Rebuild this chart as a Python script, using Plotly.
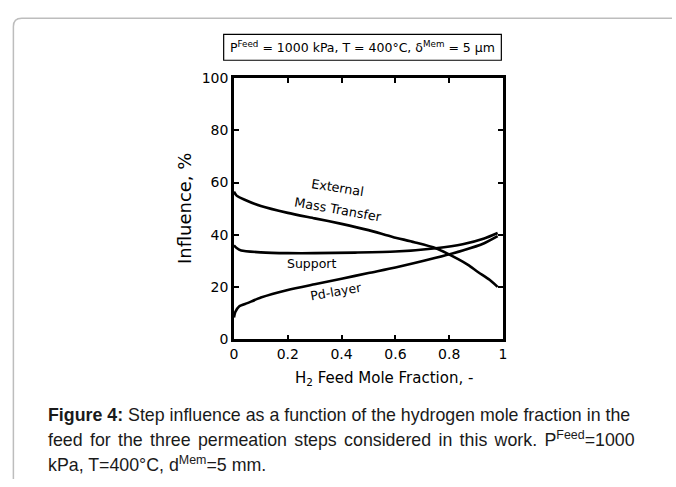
import plotly.graph_objects as go

# H2 feed mole fraction and step influence (%) for each permeation step
x_ext = [0.0, 0.01, 0.04, 0.10, 0.20, 0.30, 0.40, 0.50, 0.59, 0.67, 0.75, 0.835, 0.87, 0.908, 0.95, 0.98]
y_ext = [56.5, 55.0, 53.4, 51.0, 48.4, 46.3, 44.2, 41.8, 39.2, 37.2, 34.9, 30.6, 28.5, 25.7, 22.8, 20.1]

x_sup = [0.0, 0.01, 0.027, 0.10, 0.20, 0.30, 0.45, 0.60, 0.75, 0.85, 0.93, 0.98]
y_sup = [36.0, 35.0, 34.0, 33.3, 33.0, 33.0, 33.2, 33.6, 34.9, 36.4, 38.6, 40.7]

x_pd = [0.0, 0.005, 0.02, 0.05, 0.10, 0.20, 0.30, 0.40, 0.50, 0.60, 0.75, 0.85, 0.93, 0.98]
y_pd = [8.4, 10.5, 12.7, 13.9, 16.0, 18.9, 21.1, 23.2, 25.4, 27.5, 31.2, 34.0, 36.8, 39.5]

x_ticks = [0, 0.2, 0.4, 0.6, 0.8, 1]
x_tick_text = ["0", "0.2", "0.4", "0.6", "0.8", "1"]
y_ticks = [0, 20, 40, 60, 80, 100]

W, H = 676, 487
FONT = "DejaVu Sans"


def px(x):
    return x / W


def py(y):
    return 1 - y / H


def label(x, y, text, size, angle=0, xanchor="center", family=FONT, color="black"):
    return dict(x=px(x), y=py(y), text=text, showarrow=False, textangle=angle,
                xref="paper", yref="paper", xanchor=xanchor, yanchor="middle",
                font=dict(family=family, size=size, color=color))


fig = go.Figure()
for xs, ys in [(x_ext, y_ext), (x_sup, y_sup), (x_pd, y_pd)]:
    fig.add_trace(go.Scatter(x=xs, y=ys, mode="lines",
                             line=dict(color="black", width=2.6, shape="spline", smoothing=0.6),
                             showlegend=False, hoverinfo="skip"))

axis_common = dict(showline=True, linecolor="black", linewidth=2.5, mirror="ticks",
                   ticks="inside", ticklen=5, tickwidth=1.5, tickcolor="black",
                   showgrid=False, zeroline=False,
                   tickfont=dict(family=FONT, size=14, color="black"))

fig.update_xaxes(range=[0, 1], tickvals=x_ticks, ticktext=x_tick_text,
                 domain=[px(232.7), px(505)], anchor="y", **axis_common)
fig.update_yaxes(range=[0, 100], tickvals=y_ticks,
                 domain=[py(342.7), py(72.3)], anchor="x", **axis_common)

annotations = [
    # axis titles
    label(385, 383, "H<sub>2</sub> Feed Mole Fraction, -", 15),
    label(182, 207, "Influence, %", 18, angle=-90),
    # operating conditions
    label(362.5, 40.5, "P<sup>Feed</sup> = 1000 kPa, T = 400°C, δ<sup>Mem</sup> = 5 μm", 12.5),
    # curve labels
    label(337, 186, "External", 12.8, angle=9),
    label(338, 208, "Mass Transfer", 12.8, angle=10),
    label(312, 264, "Support", 12.5),
    label(336, 293, "Pd-layer", 12.5, angle=-10),
]

caption_lines = [
    ("<b>Figure 4:</b> Step influence as a function of the hydrogen mole fraction in the", 0),
    ("feed for the three permeation steps considered in this work. P<sup>Feed</sup>=1000", 2.4),
    ("kPa, T=400°C, d<sup>Mem</sup>=5 mm.", 0),
]
for i, (line, spacing) in enumerate(caption_lines):
    text = f"<span style='word-spacing:{spacing}px'>{line}</span>" if spacing else line
    annotations.append(label(42, 421 + 25 * i, text, 17.8, xanchor="left",
                             family="Liberation Sans", color="#1a1a1a"))

shapes = [
    # rounded page frame
    dict(type="path", xref="paper", yref="paper",
         path=f"M {px(9.5)},{py(487)} L {px(9.5)},{py(19)} Q {px(9.5)},{py(10.5)} {px(18)},{py(10.5)} L {px(676)},{py(10.5)}",
         line=dict(color="#bdbdbd", width=1.5)),
    # box around the operating conditions
    dict(type="rect", xref="paper", yref="paper",
         x0=px(222.3), x1=px(503.3), y0=py(54), y1=py(27.3),
         line=dict(color="black", width=1.2)),
]

fig.update_layout(width=W, height=H, margin=dict(l=0, r=0, t=0, b=0),
                  paper_bgcolor="white", plot_bgcolor="white",
                  annotations=annotations, shapes=shapes)

fig.write_html("out.html")
